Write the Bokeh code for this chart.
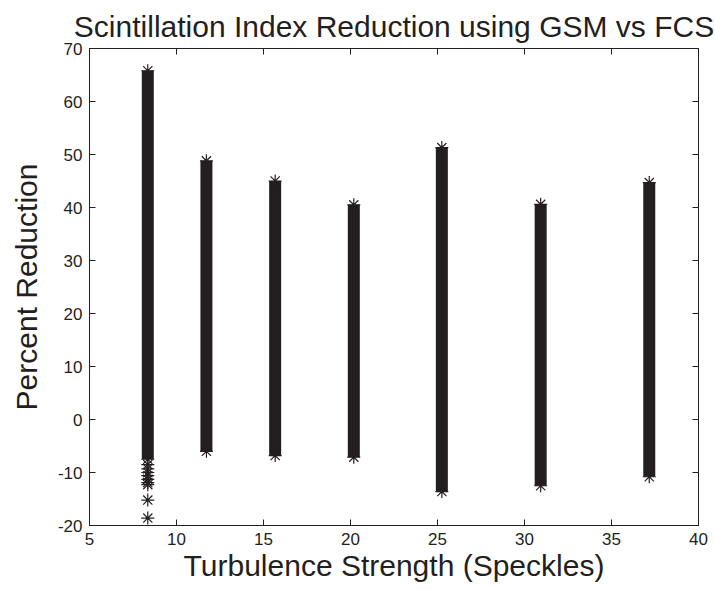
from bokeh.plotting import figure
from bokeh.models import LinearAxis, FixedTicker, ColumnDataSource, Range1d
from bokeh.embed import file_html
from bokeh.resources import INLINE

# ---- data ----
turbulence = [8.35, 11.72, 15.67, 20.19, 25.25, 30.93, 37.17]
band_low = [-7.5, -6.0, -6.8, -7.1, -13.6, -12.5, -10.8]
band_high = [65.8, 48.8, 45.0, 40.5, 51.3, 40.6, 44.7]
tail_turbulence = [8.35, 8.35, 8.35, 8.35, 8.35, 8.35, 8.35, 8.35, 8.35]
tail_values = [-8.5, -9.3, -10.0, -10.6, -11.3, -11.9, -12.3, -15.2, -18.6]

x_ticks = [5, 10, 15, 20, 25, 30, 35, 40]
x_tick_labels = ["5", "10", "15", "20", "25", "30", "35", "40"]
y_ticks = [-20, -10, 0, 10, 20, 30, 40, 50, 60, 70]
y_tick_labels = ["-20", "-10", "0", "10", "20", "30", "40", "50", "60", "70"]
title_text = "Scintillation Index Reduction using GSM vs FCS"

INK = "#231f20"
FONT = "Liberation Sans"

p = figure(width=715, height=590, x_range=Range1d(5, 40), y_range=Range1d(-20, 70),
           output_backend="svg", toolbar_location=None,
           min_border_left=89, min_border_right=17, min_border_top=48, min_border_bottom=65,
           background_fill_color="white", border_fill_color="white")

p.title.text = title_text
p.title.align = "center"
p.title.text_font = FONT
p.title.text_font_size = "30px"
p.title.text_font_style = "normal"
p.title.text_color = INK
p.title.text_line_height = 0.75
p.title.standoff = 12

p.xgrid.visible = False
p.ygrid.visible = False
p.outline_line_color = INK
p.outline_line_width = 1
p.outline_line_alpha = 1

for ax, ticks, labels, lab in ((p.xaxis[0], x_ticks, x_tick_labels, "Turbulence Strength (Speckles)"),
                               (p.yaxis[0], y_ticks, y_tick_labels, "Percent Reduction")):
    ax.ticker = FixedTicker(ticks=ticks)
    ax.major_label_overrides = {t: l for t, l in zip(ticks, labels)}
    ax.axis_label = lab
    ax.axis_label_text_font = FONT
    ax.axis_label_text_font_size = "30px"
    ax.axis_label_text_font_style = "normal"
    ax.axis_label_text_color = INK
    ax.major_label_text_font = FONT
    ax.major_label_text_font_size = "17px"
    ax.major_label_text_color = INK
    ax.major_tick_in = 6
    ax.major_tick_out = 0
    ax.minor_tick_line_color = None
    ax.axis_line_color = INK
    ax.major_tick_line_color = INK

p.xaxis[0].major_label_standoff = 7
p.xaxis[0].axis_label_standoff = 1
p.yaxis[0].major_label_standoff = 7
p.yaxis[0].axis_label_standoff = 12

for loc, ticks in (("above", x_ticks), ("right", y_ticks)):
    ax = LinearAxis(ticker=FixedTicker(ticks=ticks), major_label_text_font_size="1px",
                    major_label_text_color=None, major_label_text_alpha=0,
                    major_label_standoff=0, major_tick_in=6, major_tick_out=0,
                    minor_tick_line_color=None, axis_line_color=INK, major_tick_line_color=INK)
    p.add_layout(ax, loc)

band = ColumnDataSource(dict(x=turbulence, lo=band_low, hi=band_high))
p.segment(x0="x", y0="lo", x1="x", y1="hi", source=band, line_width=12, line_color=INK, line_cap="butt")
p.scatter(x="x", y="lo", source=band, marker="asterisk", size=13, line_color=INK, line_width=1.2)
p.scatter(x="x", y="hi", source=band, marker="asterisk", size=13, line_color=INK, line_width=1.2)

tails = ColumnDataSource(dict(x=tail_turbulence, y=tail_values))
p.scatter(x="x", y="y", source=tails, marker="asterisk", size=13, line_color=INK, line_width=1.2)

open("out.html", "w").write(file_html(p, INLINE))
